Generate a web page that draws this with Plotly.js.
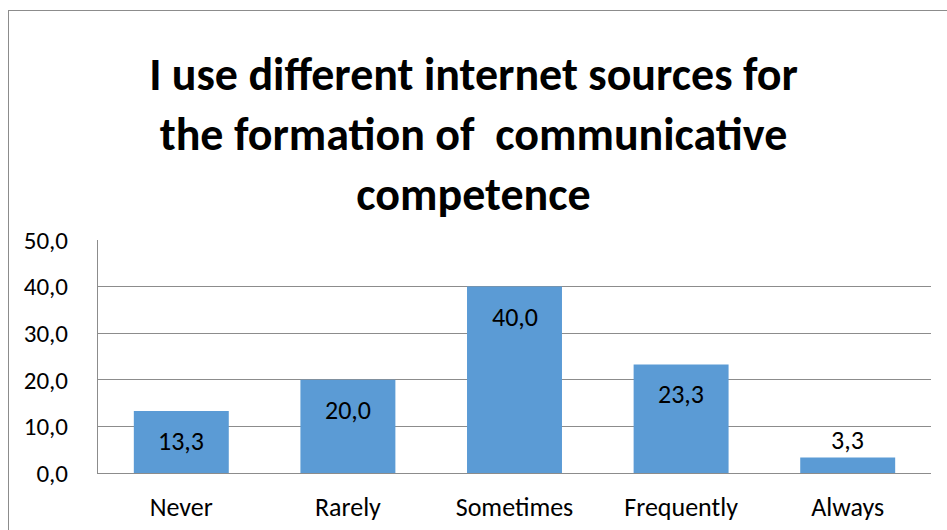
<!DOCTYPE html>
<html>
<head>
<meta charset="utf-8">
<script src="https://cdn.plot.ly/plotly-3.0.1.min.js"></script>
<style>
  html, body { margin: 0; padding: 0; background: #fff; overflow: hidden; }
  #wrap { position: relative; width: 947px; height: 530px; overflow: hidden; }
  #chart { width: 947px; height: 530px; }
  #frame { position: absolute; left: 8px; top: 10px; width: 1000px; height: 600px;
           border: 1px solid #8c8c8c; pointer-events: none; }
</style>
</head>
<body>
<div id="wrap">
  <div id="chart"></div>
  <div id="frame"></div>
</div>
<script>
// Survey answers (percent of respondents)
const categories = ["Never", "Rarely", "Sometimes", "Frequently", "Always"];
const percents = [13.3, 20.0, 40.0, 23.3, 3.3];
const yTicks = [0, 10, 20, 30, 40, 50];

const FONT = "Carlito, Calibri, Lato, 'Open Sans', sans-serif";
const fmt = v => v.toFixed(1).replace(".", ",");

// Value labels: inside near the top for tall bars, above the bar for short ones
const labels = categories.map((c, i) => {
  const inside = percents[i] > 8;
  return {
    x: c, y: percents[i], xref: "x", yref: "y",
    text: fmt(percents[i]), showarrow: false,
    yanchor: inside ? "top" : "bottom",
    yshift: inside ? -12 : 0,
    font: { family: FONT, size: 26, color: "#000" }
  };
});

const trace = {
  type: "bar",
  x: categories,
  y: percents,
  marker: { color: "#5b9bd5", line: { width: 0 } },
  hoverinfo: "skip"
};

const layout = {
  width: 947, height: 530,
  margin: { l: 98, r: 16, t: 240, b: 57 },
  paper_bgcolor: "#fff", plot_bgcolor: "#fff",
  separators: ", ",
  showlegend: false,
  bargap: 0.43,
  font: { family: FONT, color: "#000" },
  title: {
    text: "I use different internet sources for<br>the formation of\u00a0 communicative<br>competence",
    font: { family: FONT, size: 46, color: "#000", weight: "bold" },
    xref: "container", x: 0.5, xanchor: "center",
    yref: "container", y: 0.83, yanchor: "top"
  },
  xaxis: {
    type: "category",
    showgrid: false, zeroline: false,
    showline: true, linecolor: "#8c8c8c", linewidth: 1,
    ticks: "", ticklabelstandoff: 11,
    tickfont: { family: FONT, size: 26, color: "#000" },
    fixedrange: true
  },
  yaxis: {
    range: [0, 50],
    tickvals: yTicks,
    ticktext: yTicks.map(fmt),
    showgrid: true, gridcolor: "#8c8c8c", gridwidth: 1,
    zeroline: false,
    showline: true, linecolor: "#8c8c8c", linewidth: 1,
    ticks: "", ticklabelstandoff: 24,
    tickfont: { family: FONT, size: 25, color: "#000" },
    fixedrange: true
  },
  annotations: labels
};

Plotly.newPlot("chart", [trace], layout, { displayModeBar: false, staticPlot: true });
</script>
</body>
</html>
